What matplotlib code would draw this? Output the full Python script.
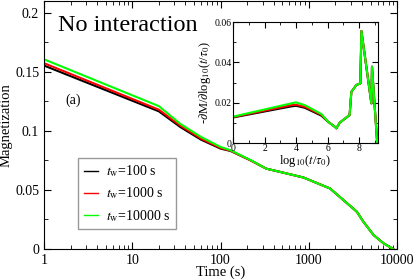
import numpy as np
import matplotlib
matplotlib.use("Agg")
import matplotlib.pyplot as plt
from matplotlib.ticker import MultipleLocator, LogLocator, NullFormatter

plt.rcParams['font.family'] = ['Liberation Serif', 'DejaVu Serif']
plt.rcParams['mathtext.fontset'] = 'stix'

# main panel: magnetization vs time
time_s = [1, 20, 35, 60, 100, 130, 220, 330, 470, 870, 1740, 3500, 4150, 5400, 7000, 9000]
mag_100 = [0.1554, 0.1166, 0.1033, 0.0926, 0.0850, 0.0830, 0.0750, 0.068, 0.0653, 0.0605, 0.0512, 0.0315, 0.023, 0.0118, 0.0048, 0.0]
mag_1000 = [0.1574, 0.1180, 0.1045, 0.0935, 0.0855, 0.0832, 0.0749, 0.068, 0.0653, 0.0605, 0.0512, 0.0315, 0.023, 0.0118, 0.0048, 0.0]
mag_10000 = [0.1607, 0.1210, 0.1060, 0.0949, 0.0864, 0.0836, 0.0752, 0.068, 0.0653, 0.0605, 0.0512, 0.0315, 0.023, 0.0118, 0.0048, 0.0]

# inset: relaxation rate vs log10(t/tau0)
log_t = [0, 3.7, 4.0, 4.56, 5.61, 6.03, 6.46, 6.56, 6.77, 7.4, 7.51, 7.83, 8.08, 8.15, 8.78, 8.82, 9.15]
rate_100 = [0.0127, 0.0182, 0.0185, 0.0175, 0.0136, 0.0106, 0.0081, 0.0073, 0.0101, 0.0139, 0.0254, 0.0288, 0.0296, 0.0556, 0.0197, 0.0379, 0.0]
rate_1000 = [0.0129, 0.0188, 0.0190, 0.0180, 0.0140, 0.0106, 0.0081, 0.0073, 0.0101, 0.0139, 0.0254, 0.0288, 0.0296, 0.0556, 0.0197, 0.0379, 0.0]
rate_10000 = [0.0131, 0.0197, 0.0202, 0.0188, 0.0144, 0.0106, 0.0081, 0.0073, 0.0101, 0.0139, 0.0254, 0.0288, 0.0296, 0.0556, 0.0197, 0.0379, 0.0]

labels = [r"$t_{\rm w}$=100 s", r"$t_{\rm w}$=1000 s", r"$t_{\rm w}$=10000 s"]
colors = ['black', 'red', '#00ff00']

fig = plt.figure(figsize=(4.15, 2.8), dpi=100)
ax = fig.add_axes([0.106, 0.111, 0.851, 0.885])
for y, c, lab in zip([mag_100, mag_1000, mag_10000], colors, labels):
    ax.plot(time_s, y, color=c, lw=1.5, label=lab)
ax.set_xscale('log')
ax.set_xlim(1, 10000)
ax.set_ylim(0, 0.21)
ax.yaxis.set_minor_locator(MultipleLocator(0.025))
ax.set_yticks([0, 0.05, 0.1, 0.15, 0.2])
ax.set_yticklabels(['0', '0.05', '0.1', '0.15', '0.2'])
ax.set_xticks([1, 10, 100, 1000, 10000])
ax.set_xticklabels(['1', '10', '100', '1000', '10000'])
ax.xaxis.set_minor_locator(LogLocator(base=10, subs=np.arange(2, 10)))
ax.xaxis.set_minor_formatter(NullFormatter())
ax.tick_params(which='both', direction='in', top=True, right=True, labelsize=10)
ax.tick_params(which='major', length=5)
ax.tick_params(which='minor', length=3)
ax.set_xlabel('Time (s)', fontsize=10.5, labelpad=-1)
ax.set_ylabel('Magnetization', fontsize=10.5, labelpad=2)
ax.text(0.04, 0.90, 'No interaction', transform=ax.transAxes, fontsize=17.5, va='center',
        family='Liberation Serif')
ax.text(0.06, 0.60, '(a)', transform=ax.transAxes, fontsize=10, va='center')
leg = ax.legend(loc='lower left', bbox_to_anchor=(0.097, 0.08), fontsize=10,
                frameon=True, fancybox=False, handlelength=1.0, borderpad=0.4,
                borderaxespad=0, labelspacing=0.45, handletextpad=0.6)
leg.get_frame().set_edgecolor('gray')
leg.get_frame().set_linewidth(1.0)
for h in leg.get_lines():
    h.set_linewidth(1.0)

ins = fig.add_axes([0.5614, 0.489, 0.3494, 0.432])
for y, c in zip([rate_100, rate_1000, rate_10000], colors):
    ins.plot(log_t, y, color=c, lw=1.5)
ins.set_xlim(0, 9.2)
ins.set_ylim(0, 0.06)
ins.set_xticks([0, 2, 4, 6, 8])
ins.set_yticks([0, 0.02, 0.04, 0.06])
ins.set_yticklabels(['0', '0.02', '0.04', '0.06'])
ins.xaxis.set_minor_locator(MultipleLocator(1))
ins.yaxis.set_minor_locator(MultipleLocator(0.01))
ins.tick_params(which='both', direction='in', top=True, right=True, labelsize=7, pad=1)
ins.tick_params(which='major', length=4)
ins.tick_params(which='minor', length=2)
ins.set_xlabel(r'log$_{10}$($t$/$\tau_0$)', fontsize=9, labelpad=0)
ins.set_ylabel(r'-$\partial$M/$\partial$log$_{10}$($t$/$\tau_0$)', fontsize=9, labelpad=1)

fig.savefig('out.png', dpi=100)
